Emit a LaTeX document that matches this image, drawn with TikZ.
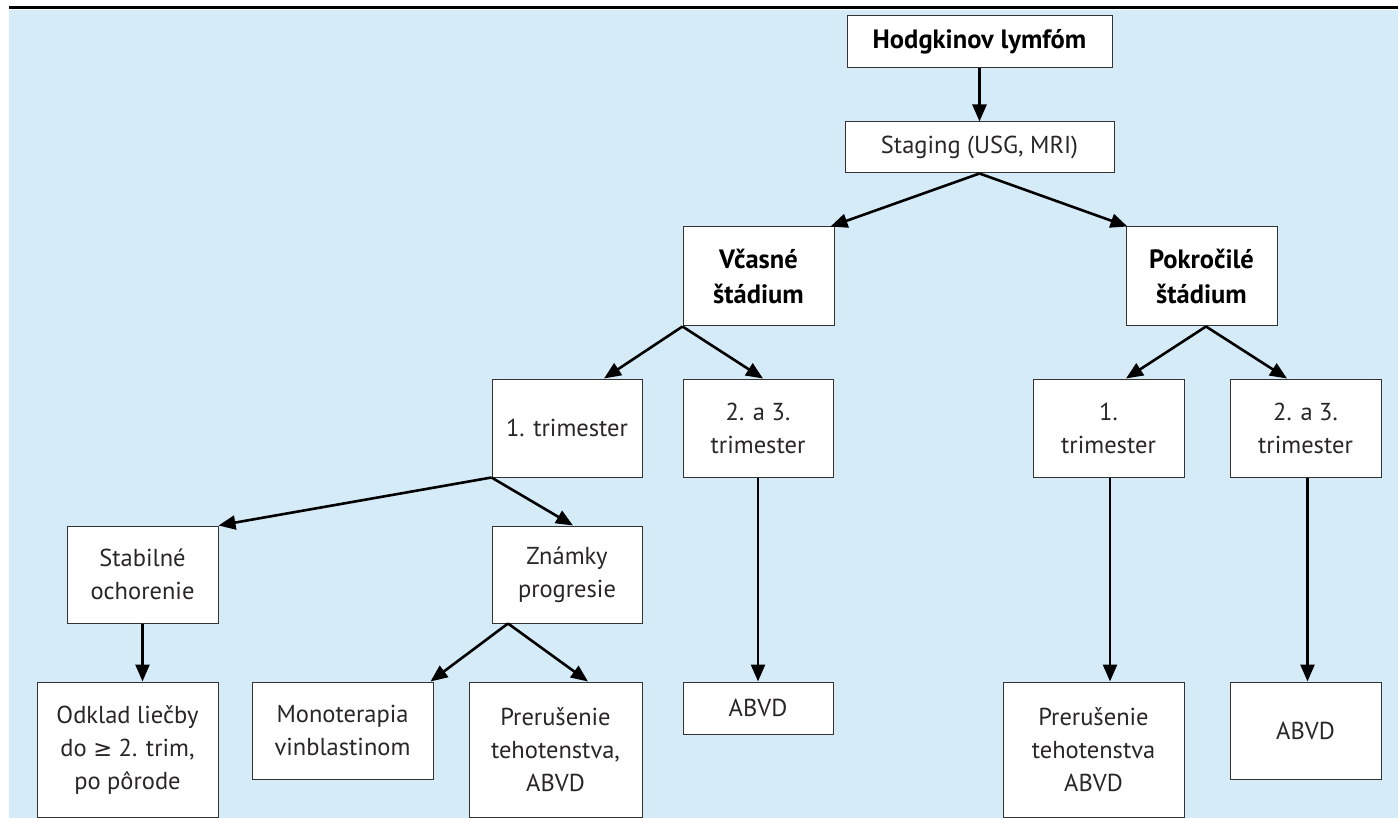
\documentclass[tikz,border=0pt]{standalone}
\usepackage{fontspec}
\setmainfont{PT Sans}
\newfontfamily\symfont{DejaVu Sans}[Scale=0.92]
\usetikzlibrary{arrows.meta}
\definecolor{bgblue}{RGB}{214,235,248}
\definecolor{txt}{RGB}{40,38,38}
\tikzset{
  box/.style={draw=black!80, line width=1pt, fill=white, inner sep=0pt, align=center,
    text=txt, font=\fontsize{24.5}{33}\selectfont},
  boldbox/.style={box, text=black, font=\fontsize{26.5}{35}\selectfont\bfseries},
  arr/.style={line width=2.6pt, -{Triangle[length=17pt,width=14pt]}}
}
\begin{document}
\begin{tikzpicture}[x=1pt,y=-1pt]
\useasboundingbox (0,0) rectangle (1398,818);
\fill[bgblue] (9,10) rectangle (1398,818);
\fill[black] (9,6) rectangle (1398,9.5);
% nodes
\node[boldbox, minimum width=265pt, minimum height=52pt] (hod) at (979.5,42) {Hodgkinov lymfóm};
\node[box, minimum width=269pt, minimum height=51pt] (stag) at (979.5,147.5) {Staging (USG, MRI)};
\node[boldbox, minimum width=151pt, minimum height=99pt] (vcas) at (758.5,276.5) {Včasné\\štádium};
\node[boldbox, minimum width=151pt, minimum height=99pt] (pokr) at (1201.5,276.5) {Pokročilé\\štádium};
\node[box, minimum width=150pt, minimum height=98pt] (t1a) at (567,428) {1. trimester};
\node[box, minimum width=150pt, minimum height=98pt] (t23a) at (758,428) {2. a 3.\\trimester};
\node[box, minimum width=151pt, minimum height=98pt] (t1b) at (1108.5,428) {1.\\trimester};
\node[box, minimum width=151pt, minimum height=98pt] (t23b) at (1305.5,428) {2. a 3.\\trimester};
\node[box, minimum width=151pt, minimum height=97pt] (stab) at (142.5,574.5) {Stabilné\\ochorenie};
\node[box, minimum width=150pt, minimum height=97pt] (znam) at (567,574.5) {Známky\\progresie};
\node[box, minimum width=181pt, minimum height=135pt] (odk) at (127.5,749.5) {Odklad liečby\\do {\symfont ≥} 2. trim,\\po pôrode};
\node[box, minimum width=181pt, minimum height=97pt] (mono) at (342.5,730.5) {Monoterapia\\vinblastinom};
\node[box, minimum width=173pt, minimum height=135pt] (prer1) at (555.5,749.5) {Prerušenie\\tehotenstva,\\ABVD};
\node[box, minimum width=150pt, minimum height=52pt] (abvd1) at (758,708) {ABVD};
\node[box, minimum width=181pt, minimum height=135pt] (prer2) at (1093.5,749.5) {Prerušenie\\tehotenstva\\ABVD};
\node[box, minimum width=151pt, minimum height=97pt] (abvd2) at (1305.5,730.5) {ABVD};
% connectors
\draw[arr] (hod.south) -- (stag.north);
\draw[arr] (stag.south) -- ([xshift=-4pt]vcas.north east);
\draw[arr] (stag.south) -- ([xshift=2pt]pokr.north west);
\draw[arr] (vcas.south west) -- ([xshift=37pt]t1a.north);
\draw[arr] (vcas.south west) -- ([xshift=5pt]t23a.north);
\draw[arr] ([xshift=4.5pt]pokr.south) -- ([xshift=17.5pt]t1b.north);
\draw[arr] ([xshift=4.5pt]pokr.south) -- ([xshift=-18.5pt]t23b.north);
\draw[arr] (t23a.south) -- (abvd1.north);
\draw[arr] ([xshift=1.5pt]t1b.south) -- ([xshift=1.5pt]t1b.south |- prer2.north);
\draw[arr] ([xshift=2pt]t23b.south) -- ([xshift=2pt]abvd2.north);
\draw[arr] (t1a.south west) -- (stab.north east);
\draw[arr] (t1a.south west) -- ([xshift=6pt]znam.north);
\draw[arr] (stab.south) -- (stab.south |- odk.north);
\draw[arr] ([xshift=-59pt]znam.south) -- ([xshift=-3pt]mono.north east);
\draw[arr] ([xshift=-59pt]znam.south) -- ([xshift=32.5pt]prer1.north);
\end{tikzpicture}
\end{document}
